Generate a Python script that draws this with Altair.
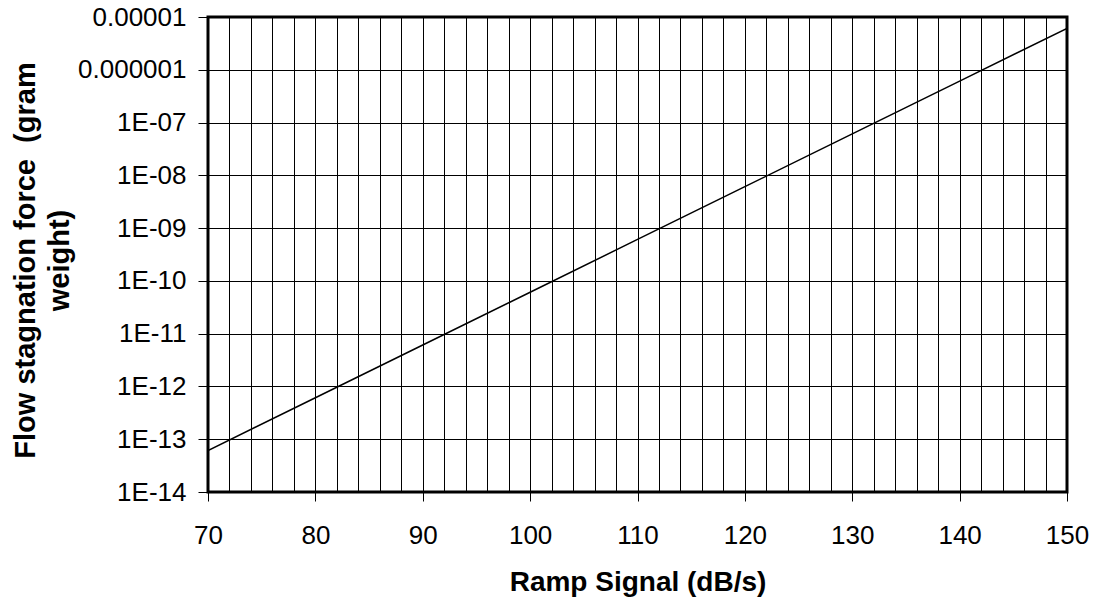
import altair as alt
import pandas as pd

# Data
ramp_signal = [70, 80, 90, 100, 110, 120, 130, 140, 150]
stagnation_force = [6.1e-14, 6.1e-13, 6.1e-12, 6.1e-11, 6.1e-10, 6.1e-9, 6.1e-8, 6.1e-7, 6.1e-6]

x_grid_values = list(range(70, 151, 2))
y_tick_values = [1e-14, 1e-13, 1e-12, 1e-11, 1e-10, 1e-9, 1e-8, 1e-7, 1e-6, 1e-5]
y_tick_labels = ["1E-14", "1E-13", "1E-12", "1E-11", "1E-10", "1E-09",
                 "1E-08", "1E-07", "0.000001", "0.00001"]

df = pd.DataFrame({"x": ramp_signal, "y": stagnation_force})

FONT = "Liberation Sans"
label_list = "[" + ",".join("'" + s + "'" for s in y_tick_labels) + "]"

chart = alt.Chart(df).mark_line(color="black", strokeWidth=1.5, clip=True).encode(
    x=alt.X(
        "x:Q",
        scale=alt.Scale(domain=[70, 150], nice=False, zero=False),
        axis=alt.Axis(
            title="Ramp Signal (dB/s)",
            values=x_grid_values,
            labelExpr="datum.value % 10 === 0 ? datum.label : ''",
            tickOpacity={"condition": {"test": "datum.value % 10 !== 0", "value": 0}, "value": 1},
            tickSize=9,
            tickColor="black",
            tickWidth=1,
            labelPadding=21,
            labelFontSize=26,
            labelFont=FONT,
            labelColor="black",
            labelOverlap=False,
            labelFlush=False,
            grid=True,
            gridColor="black",
            gridWidth=1,
            gridOpacity=1,
            domain=False,
            titleFont=FONT,
            titleFontSize=28,
            titleFontWeight="bold",
            titleColor="black",
            titleBaseline="alphabetic",
            titleY=98,
        ),
    ),
    y=alt.Y(
        "y:Q",
        scale=alt.Scale(type="log", domain=[1e-14, 1e-5], nice=False),
        axis=alt.Axis(
            title=["Flow stagnation force \u00a0(gram", "weight)"],
            values=y_tick_values,
            labelExpr=label_list + "[round(log(datum.value)/LN10)+14]",
            tickSize=10,
            tickColor="black",
            tickWidth=1,
            labelPadding=12,
            labelFontSize=26,
            labelFont=FONT,
            labelColor="black",
            labelOverlap=False,
            labelFlush=False,
            grid=True,
            gridColor="black",
            gridWidth=1,
            gridOpacity=1,
            domain=False,
            titleFont=FONT,
            titleFontSize=29,
            titleFontWeight="bold",
            titleColor="black",
            titleBaseline="alphabetic",
            titleLineHeight=34,
            titleAlign="center",
            titleX=-174,
            titleY=243,
        ),
    ),
).properties(
    width=859,
    height=475,
    autosize=alt.AutoSizeParams(type="none"),
    padding={"left": 208, "top": 17, "right": 30, "bottom": 111},
    background="white",
).configure_view(
    stroke="black",
    strokeWidth=3,
)

chart.save("out.html", embed_options={"renderer": "svg", "actions": False})
